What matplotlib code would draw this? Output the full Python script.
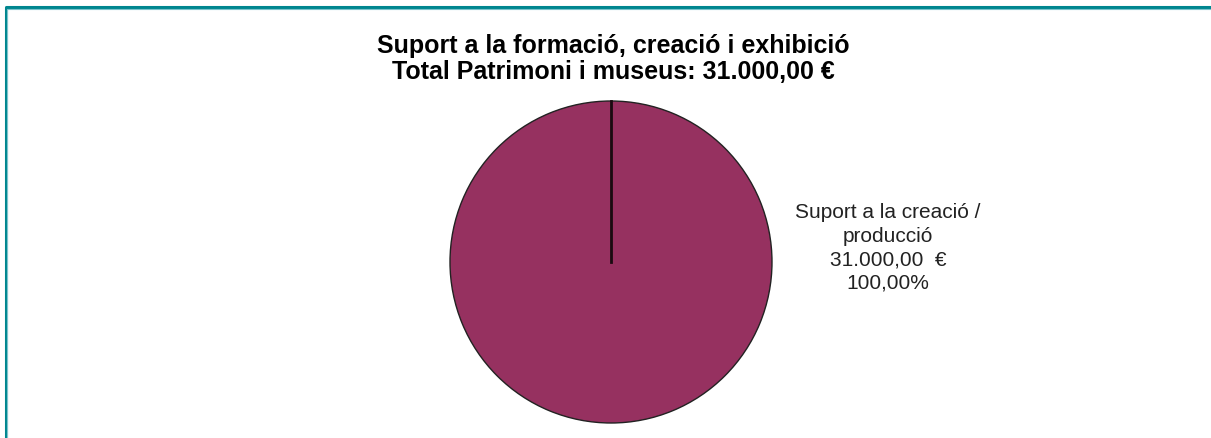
import matplotlib
matplotlib.use("Agg")
from matplotlib import pyplot as plt

# Dades
categories = ["Suport a la creació / producció"]
valors = [31000.00]
titol = "Suport a la formació, creació i exhibició\nTotal Patrimoni i museus: 31.000,00 €"
color_sector = "#963160"

def euros(v):
    s = "{:,.2f}".format(v)
    return s.replace(",", "X").replace(".", ",").replace("X", ".")

plt.rcParams['font.family'] = ['Liberation Sans', 'DejaVu Sans']

fig = plt.figure(figsize=(12.11, 4.39), dpi=100)
ax = fig.add_axes([0, 0, 1, 1])
ax.set_xlim(0, 1211)
ax.set_ylim(439, 0)
ax.axis('off')

# marc blau
ax.plot([5.5, 5.5, 1211], [439, 8, 8], color="#00868f", lw=2.2, solid_capstyle='butt')
ax.plot([7, 7, 1211], [439, 9.5, 9.5], color="#7cc4cc", lw=0.8, solid_capstyle='butt')

total = sum(valors)
wedges, _ = ax.pie(valors, center=(611, 263), radius=161, startangle=90,
                   colors=[color_sector], labels=None,
                   wedgeprops=dict(edgecolor="#222222", linewidth=1.0))
ax.set_xlim(0, 1211)
ax.set_ylim(439, 0)
ax.set_aspect('auto')

# línia radial d'inici del sector
w = wedges[0]
cx, cy = w.center
ax.plot([cx, cx], [cy, cy - w.r], color="#1a0a10", lw=2)

for cat, v in zip(categories, valors):
    txt = "Suport a la creació /\nproducció\n{}  €\n{}%".format(euros(v), euros(100 * v / total))
    ax.text(888, 248, txt, ha='center', va='center', fontsize=15,
            linespacing=1.29, color="#222222")

ax.text(613, 59, titol, ha='center', va='center', fontsize=18, fontweight='bold',
        linespacing=1.12, color="#000000")

fig.savefig("out.png", dpi=100)
